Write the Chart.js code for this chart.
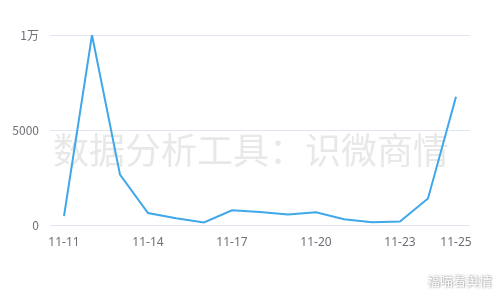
<!DOCTYPE html>
<html>
<head>
<meta charset="utf-8">
<style>
  html, body { margin: 0; padding: 0; background: #fff; }
  #wrap { width: 500px; height: 300px; position: relative; }
</style>
<script src="https://cdn.jsdelivr.net/npm/chart.js@4/dist/chart.umd.min.js"></script>
</head>
<body>
<div id="wrap"><canvas id="trend" width="500" height="300"></canvas></div>
<script>
// dates on the x axis
const dates = ['11-11', '11-12', '11-13', '11-14', '11-15', '11-16', '11-17', '11-18',
               '11-19', '11-20', '11-21', '11-22', '11-23', '11-24', '11-25'];
// daily volume
const volume = [470, 10000, 2650, 630, 350, 130, 770, 690, 550, 670, 300, 140, 180, 1400, 6750];
// which dates get a label
const shownDates = ['11-11', '11-14', '11-17', '11-20', '11-23', '11-25'];
const yTicks = [0, 5000, 10000];

const watermarkText = '数据分析工具：识微商情';
const cornerText = '福喵看舆情';

// watermark under the line + small tag in the corner
const watermark = {
    id: 'watermark',
    beforeDatasetsDraw(chart) {
        const ctx = chart.ctx;
        ctx.save();
        ctx.font = '36px "Noto Sans CJK SC", sans-serif';
        ctx.fillStyle = 'rgba(200, 200, 200, 0.42)';
        ctx.textAlign = 'center';
        ctx.textBaseline = 'middle';
        ctx.fillText(watermarkText, 251, 150);
        ctx.restore();
    },
    afterDraw(chart) {
        const ctx = chart.ctx;
        ctx.save();
        ctx.font = '13px "Noto Sans CJK SC", sans-serif';
        ctx.textAlign = 'right';
        ctx.textBaseline = 'middle';
        ctx.shadowColor = 'rgba(0, 0, 0, 0.55)';
        ctx.shadowBlur = 2;
        ctx.shadowOffsetX = 0.5;
        ctx.shadowOffsetY = 0.5;
        ctx.fillStyle = '#ffffff';
        ctx.fillText(cornerText, 492, 281);
        ctx.restore();
    }
};

const ctx = document.getElementById('trend').getContext('2d');
new Chart(ctx, {
    type: 'line',
    data: {
        labels: dates,
        datasets: [{
            data: volume,
            borderColor: '#3fa7ea',
            borderWidth: 2,
            pointRadius: 0,
            pointHoverRadius: 0,
            tension: 0,
            fill: false
        }]
    },
    options: {
        responsive: false,
        animation: false,
        events: [],
        layout: { padding: { top: 35, right: 30, left: 0, bottom: 0 } },
        plugins: {
            legend: { display: false },
            tooltip: { enabled: false }
        },
        scales: {
            x: {
                offset: true,
                grid: { display: false, drawTicks: false },
                border: { display: false },
                ticks: {
                    autoSkip: false,
                    maxRotation: 0,
                    padding: 10,
                    color: '#6e7079',
                    font: { size: 12, family: '"Noto Sans", sans-serif' },
                    callback: function (v, i) {
                        const lab = dates[i];
                        return shownDates.includes(lab) ? lab : '';
                    }
                },
                afterFit: function (scale) { scale.height = 75; }
            },
            y: {
                min: 0,
                max: 10000,
                grid: { color: '#e0e6f1', drawTicks: false },
                border: { display: false },
                afterBuildTicks: function (scale) {
                    scale.ticks = yTicks.map(v => ({ value: v }));
                },
                ticks: {
                    padding: 11,
                    color: '#6e7079',
                    font: { size: 12, family: '"Noto Sans CJK SC", sans-serif' },
                    callback: function (v) { return v === 10000 ? '1万' : v; }
                },
                afterFit: function (scale) { scale.width = 50; }
            }
        }
    },
    plugins: [watermark]
});
</script>
</body>
</html>
